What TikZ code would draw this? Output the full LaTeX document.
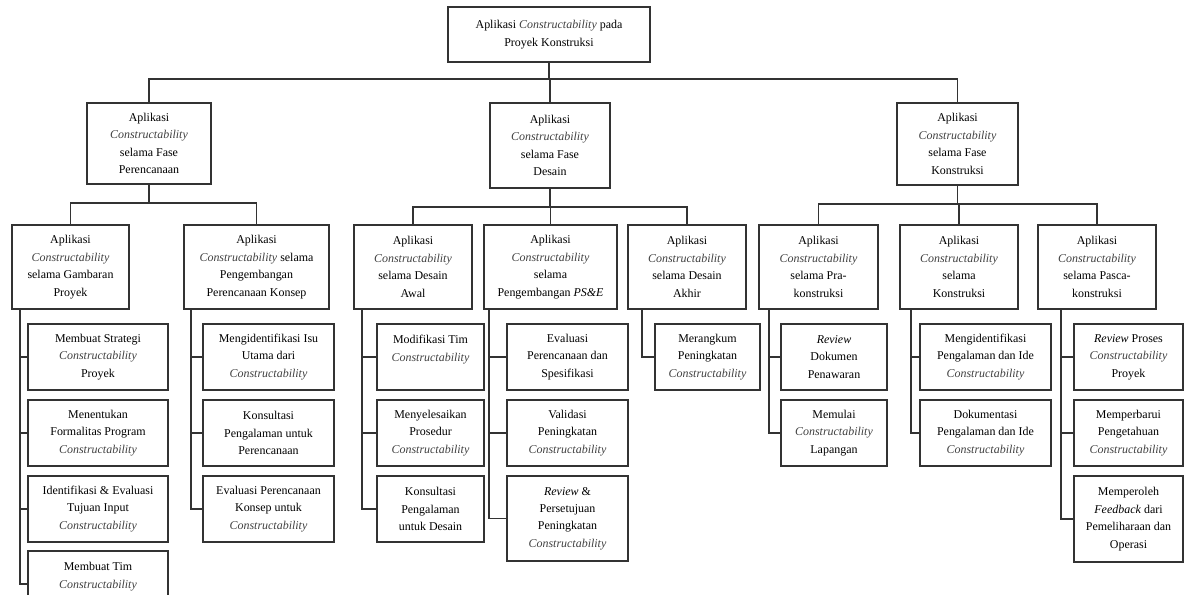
\documentclass[tikz,border=0pt]{standalone}
\usepackage{fontspec}
\setmainfont{Liberation Serif}
\newcommand{\cstr}{{\color{black!75}\textit{Constructability}}}

\begin{document}
\begin{tikzpicture}[
        x=0.025cm, y=-0.025cm,
        topic/.style={
                draw=black!80,
                line width=1.1pt,
                align=center,
                inner sep=1pt,
                font=\fontsize{8.5}{12.4}\selectfont
            },
        boxsize/.style 2 args={
                minimum width=#1*0.025cm,
                minimum height=#2*0.025cm
            },
        branch/.style={draw=black!80, line width=1.1pt}
    ]
    \useasboundingbox (0,0) rectangle (1185,594);
    % Topic
    \node[topic, boxsize={202}{55}] (top) at (549,34.5) {Aplikasi \cstr{} pada\\Proyek Konstruksi};
    % Phases
    \node[topic, boxsize={124}{81}] (p1) at (149,143.5) {Aplikasi\\\cstr\\selama Fase\\Perencanaan};
    \node[topic, boxsize={120}{85}] (p2) at (550,145.5) {Aplikasi\\\cstr\\selama Fase\\Desain};
    \node[topic, boxsize={121}{82}] (p3) at (957.5,144) {Aplikasi\\\cstr\\selama Fase\\Konstruksi};
    % Sub-phases
    \node[topic, boxsize={117}{84}] (c1) at (70.5,267) {Aplikasi\\\cstr\\selama Gambaran\\Proyek};
    \node[topic, boxsize={145}{84}] (c2) at (256.5,267) {Aplikasi\\\cstr{} selama\\Pengembangan\\Perencanaan Konsep};
    \node[topic, boxsize={118}{84}] (c3) at (413,267) {Aplikasi\\\cstr\\selama Desain\\Awal};
    \node[topic, boxsize={133}{84}] (c4) at (550.5,267) {Aplikasi\\\cstr\\selama\\Pengembangan \textit{PS\&E}};
    \node[topic, boxsize={118}{84}] (c5) at (687,267) {Aplikasi\\\cstr\\selama Desain\\Akhir};
    \node[topic, boxsize={119}{84}] (c6) at (818.5,267) {Aplikasi\\\cstr\\selama Pra-\\konstruksi};
    \node[topic, boxsize={118}{84}] (c7) at (959,267) {Aplikasi\\\cstr\\selama\\Konstruksi};
    \node[topic, boxsize={118}{84}] (c8) at (1097,267) {Aplikasi\\\cstr\\selama Pasca-\\konstruksi};
    % Activities
    \node[topic, boxsize={140}{66}] (a11) at (98,357) {Membuat Strategi\\\cstr\\Proyek};
    \node[topic, boxsize={140}{66}] (a12) at (98,433) {Menentukan\\Formalitas Program\\\cstr};
    \node[topic, boxsize={140}{66}] (a13) at (98,509) {Identifikasi \& Evaluasi\\Tujuan Input\\\cstr};
    \node[topic, boxsize={140}{66}] (a14) at (98,584) {Membuat Tim\\\cstr\\\mbox{}};
    \node[topic, boxsize={131}{66}] (a21) at (268.5,357) {Mengidentifikasi Isu\\Utama dari\\\cstr};
    \node[topic, boxsize={131}{66}] (a22) at (268.5,433) {Konsultasi\\Pengalaman untuk\\Perencanaan};
    \node[topic, boxsize={131}{66}] (a23) at (268.5,509) {Evaluasi Perencanaan\\Konsep untuk\\\cstr};
    \node[topic, boxsize={107}{66}] (a31) at (430.5,357) {Modifikasi Tim\\\cstr\\\mbox{}};
    \node[topic, boxsize={107}{66}] (a32) at (430.5,433) {Menyelesaikan\\Prosedur\\\cstr};
    \node[topic, boxsize={107}{66}] (a33) at (430.5,509) {Konsultasi\\Pengalaman\\untuk Desain};
    \node[topic, boxsize={121}{66}] (a41) at (567.5,357) {Evaluasi\\Perencanaan dan\\Spesifikasi};
    \node[topic, boxsize={121}{66}] (a42) at (567.5,433) {Validasi\\Peningkatan\\\cstr};
    \node[topic, boxsize={121}{85}] (a43) at (567.5,518.5) {\textit{Review} \&\\Persetujuan\\Peningkatan\\\cstr};
    \node[topic, boxsize={105}{66}] (a51) at (707.5,357) {Merangkum\\Peningkatan\\\cstr};
    \node[topic, boxsize={106}{66}] (a61) at (834,357) {\textit{Review}\\Dokumen\\Penawaran};
    \node[topic, boxsize={106}{66}] (a62) at (834,433) {Memulai\\\cstr\\Lapangan};
    \node[topic, boxsize={131}{66}] (a71) at (985.5,357) {Mengidentifikasi\\Pengalaman dan Ide\\\cstr};
    \node[topic, boxsize={131}{66}] (a72) at (985.5,433) {Dokumentasi\\Pengalaman dan Ide\\\cstr};
    \node[topic, boxsize={109}{66}] (a81) at (1128.5,357) {\textit{Review} Proses\\\cstr\\Proyek};
    \node[topic, boxsize={109}{66}] (a82) at (1128.5,433) {Memperbarui\\Pengetahuan\\\cstr};
    \node[topic, boxsize={109}{86}] (a83) at (1128.5,519) {Memperoleh\\\textit{Feedback} dari\\Pemeliharaan dan\\Operasi};
    % Connectors
    \foreach \p in {p1,p2,p3}
    \draw[branch] (top.south) -- ++(0,16) -| (\p.north);
    \foreach \c in {c1,c2}
    \draw[branch] (p1.south) -- ++(0,18) -| (\c.north);
    \foreach \c in {c3,c4,c5}
    \draw[branch] (p2.south) -- ++(0,18) -| (\c.north);
    \foreach \c in {c6,c7,c8}
    \draw[branch] (p3.south) -- ++(0,18) -| (\c.north);
    \foreach \a in {a11,a12,a13,a14}
    \draw[branch] (c1.south west) ++(9,0) |- (\a.west);
    \foreach \a in {a21,a22,a23}
    \draw[branch] (c2.south west) ++(8,0) |- (\a.west);
    \foreach \a in {a31,a32,a33}
    \draw[branch] (c3.south west) ++(9,0) |- (\a.west);
    \foreach \a in {a41,a42,a43}
    \draw[branch] (c4.south west) ++(6,0) |- (\a.west);
    \draw[branch] (c5.south west) ++(15,0) |- (a51.west);
    \foreach \a in {a61,a62}
    \draw[branch] (c6.south west) ++(11,0) |- (\a.west);
    \foreach \a in {a71,a72}
    \draw[branch] (c7.south west) ++(12,0) |- (\a.west);
    \foreach \a in {a81,a82,a83}
    \draw[branch] (c8.south west) ++(24,0) |- (\a.west);
\end{tikzpicture}
\end{document}
